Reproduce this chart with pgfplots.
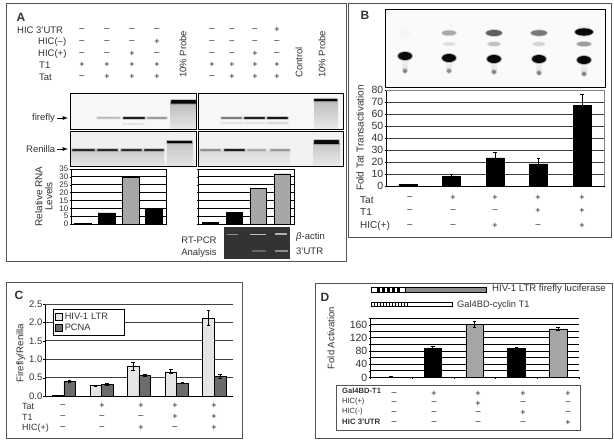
\documentclass[border=0pt]{standalone}
\usepackage{pgfplots}
\pgfplotsset{compat=1.18}
\usepackage{fontspec}
\setmainfont{Liberation Sans}
\newcommand{\fs}[1]{\fontsize{#1}{#1}\selectfont}
\definecolor{frame}{gray}{0.33}
\definecolor{gridd}{gray}{0.25}
\definecolor{barg}{gray}{0.65}
\definecolor{barl}{gray}{0.90}
\definecolor{bard}{gray}{0.42}
\definecolor{txt}{gray}{0.2}
% sign rows: y, list x/sign
\newcommand{\signs}[2]{\foreach \xx/\ss in {#2}{\node[black!90,font=\fs{9},inner sep=0pt] at (\xx,#1) {\ss};}}
\newcommand{\lab}[4][9.5]{\node[anchor=west,txt,font=\fs{#1},inner sep=0pt] at (#2,#3) {#4};}
% gel band: x1,x2,y,height,gray
\newcommand{\band}[5]{%
 \fill[black!#5,opacity=0.2,rounded corners=1pt] (#1-1,#3-#4*0.5-1) rectangle (#2+1,#3+#4*0.5+1);
 \fill[black!#5,opacity=0.95,rounded corners=0.7pt] (#1,#3-#4*0.5) rectangle (#2,#3+#4*0.5);}
% probe smear
\newcommand{\smear}[3]{\shade[top color=black!26,bottom color=black!9] (#1,#3) rectangle (#2,#3+#3*0+129-#3);}
\newcommand{\spot}[5]{\fill[black!#5,opacity=0.25] (#1,#2) ellipse ({#3+1} and {#4+1}); \fill[black!#5,opacity=0.95] (#1,#2) ellipse (#3 and #4);}
\pgfplotsset{
 px/.style={scale only axis,
  /pgf/number format/assume math mode=true,
  axis line style={black,line width=0.6pt},
  xmin=-0.5,xmax=4.5,xticklabels={},
  xtick={-0.5,0.5,1.5,2.5,3.5,4.5},
  y tick label style={txt,inner sep=1pt},
  x tick style={black},
  y tick style={black},
  major tick length=1.5pt,
  tick align=outside,xtick pos=bottom,ytick pos=left,
  ymajorgrids,clip=false,
  ybar=0pt,
  error bars/y dir=both,error bars/y explicit,
  error bars/error bar style={black,line width=0.8pt},
  error bars/error mark options={rotate=90,mark size=1.8pt,line width=0.8pt,black},
 },
}
\begin{document}
\begin{tikzpicture}
\path[use as bounding box,fill=white] (0,0) rectangle (614pt,-441pt);
\begin{scope}[x=1pt,y=-1pt]
% ---------- frames
\draw[frame,line width=0.8pt] (6,3) rectangle (346,261);
\draw[frame,line width=0.8pt] (348,3) rectangle (611,237);
\draw[frame,line width=0.8pt] (6,282) rectangle (242,438);
\draw[frame,line width=0.8pt] (315,283) rectangle (612,438);
% ---------- panel letters
\node[font=\bfseries\fs{12},txt] at (21,17) {A};
\node[font=\bfseries\fs{12},txt] at (365,15) {B};
\node[font=\bfseries\fs{12},txt] at (19,295) {C};
\node[font=\bfseries\fs{12},txt] at (325,297) {D};
% ---------- A header
\lab{17}{30}{HIC 3'UTR}
\lab{38}{42}{HIC(–)}
\lab{38}{54}{HIC(+)}
\lab{39}{65}{T1}
\lab{39}{77}{Tat}
\signs{30}{82/–,107/–,132/–,157/–,212/–,232/–,255/–,277/+}
\signs{42}{82/–,107/–,132/–,157/+,212/–,232/–,255/–,277/–}
\signs{54}{82/–,107/–,132/+,157/–,212/–,232/–,255/+,277/–}
\signs{65}{82/+,107/+,132/+,157/+,212/+,232/+,255/+,277/+}
\signs{77}{82/–,107/+,132/+,157/+,212/–,232/+,255/+,277/+}
\node[rotate=90,anchor=west,txt,font=\fs{9.5},inner sep=0pt] at (183,78) {10\% Probe};
\node[rotate=90,anchor=west,txt,font=\fs{9.5},inner sep=0pt] at (299,78) {Control};
\node[rotate=90,anchor=west,txt,font=\fs{9.5},inner sep=0pt] at (322,78) {10\% Probe};
% ---------- A gels firefly
\fill[black!3] (70,93) rectangle (196,129);
\fill[black!3] (198,93) rectangle (343,129);
\smear{170}{196}{103}\smear{314}{338}{100}
\band{97}{120}{118}{1}{40}
\band{123}{145}{118}{1.6}{92}
\band{147}{167}{118}{1.1}{55}
\band{123}{143}{124}{0.8}{18}
\band{171}{196}{102}{3.5}{100}
\band{221}{242}{118}{1.2}{70}
\band{244}{265}{118}{1.6}{90}
\band{267}{288}{118}{1.8}{95}
\band{221}{242}{123}{0.7}{18}
\band{244}{265}{123}{0.7}{18}
\band{267}{288}{123}{0.8}{28}
\band{314}{337}{100}{2.4}{100}
\draw[black,line width=0.7pt] (70,93) rectangle (196,129);
\draw[black,line width=0.7pt] (198,93) rectangle (343,129);
\lab{32}{118}{firefly}
\draw[-latex,black,line width=0.9pt] (57,118) -- (68,118);
% ---------- A gels Renilla
\fill[black!6] (70,131) rectangle (196,166);
\fill[black!5] (198,131) rectangle (343,166);
\shade[top color=black!20,bottom color=black!9] (70,152) rectangle (164,166);
\shade[top color=black!14,bottom color=black!7] (198,152) rectangle (290,166);
\shade[top color=black!22,bottom color=black!10] (167,144) rectangle (193,166);
\shade[top color=black!22,bottom color=black!8] (313,144) rectangle (340,166);
\band{72}{95}{150}{1.6}{88}
\band{97}{118}{150}{1.6}{88}
\band{121}{142}{150}{1.6}{85}
\band{144}{164}{150}{1.6}{85}
\band{167}{192}{142}{2.4}{100}
\band{200}{221}{150}{1.3}{60}
\band{224}{245}{150}{1.7}{92}
\band{247}{266}{150}{1.1}{45}
\band{270}{290}{150}{1.2}{55}
\band{314}{339}{142}{3.6}{100}
\draw[black,line width=0.7pt] (70,131) rectangle (196,166);
\draw[black,line width=0.7pt] (198,131) rectangle (343,166);
\lab{26}{149}{Renilla}
\draw[-latex,black,line width=0.9pt] (57,149) -- (68,149);
% ---------- RT-PCR gel
\fill[black!80] (224,227) rectangle (290,259);
\fill[black!45] (227,234) rectangle (238,235.5);
\fill[black!25] (250,234) rectangle (266,235.5);
\fill[black!30] (275,233.5) rectangle (287,235.5);
\fill[black!60] (252,250.5) rectangle (266,252);
\fill[black!45] (275,250) rectangle (288,252);
\node[txt,font=\fs{9.5},align=center,inner sep=0pt] at (199,247) {RT-PCR\\[2.5pt]Analysis};
\lab{296}{237}{\textit{β}-actin}
\lab{296}{251}{3'UTR}
% ---------- B gel
\draw[black,line width=0.8pt,fill=black!2] (385,9) rectangle (605,87);
\foreach \xx/\yy in {405/56,449/58,494/59,539/59,584/60}{
 \shade[top color=black!3,bottom color=black!12] (\xx-3,\yy) rectangle (\xx+3,\yy+14);}
\spot{405}{33}{5}{4}{4}
\spot{449}{33}{7}{2.5}{35}
\spot{494}{33}{8}{3}{65}
\spot{539}{33}{8}{2.8}{55}
\spot{584}{32}{9}{3.6}{100}
\spot{449}{44}{6}{1.5}{15}
\spot{494}{44}{6.5}{2}{25}
\spot{539}{44}{6}{1.8}{18}
\spot{584}{44}{7}{2.2}{40}
\spot{405}{56}{7}{4}{100}
\spot{449}{58}{7}{4}{100}
\spot{494}{59}{7}{4}{100}
\spot{539}{59}{7}{4}{100}
\spot{584}{60}{7}{4}{100}
\spot{405}{71}{2}{2}{50}
\spot{449}{71}{2}{2}{45}
\spot{494}{72}{2}{2}{50}
\spot{539}{73}{2}{2}{50}
\spot{584}{74}{2}{2}{50}
% ---------- B row labels
\lab[10]{360}{200}{Tat}
\lab[10]{360}{212}{T1}
\lab[10]{360}{226}{HIC(+)}
\signs{198}{410/–,453/+,495/+,538/+,582/+}
\signs{211}{410/–,453/–,495/–,538/+,582/+}
\signs{226}{410/–,453/–,495/+,538/–,582/+}
% ---------- C row labels
\lab[9]{22}{406}{Tat}
\lab[9]{22}{417}{T1}
\lab[9]{22}{428}{HIC(+)}
\signs{406}{63/–,102/+,141/+,175/+,214/+}
\signs{417}{63/–,102/–,141/–,175/+,214/+}
\signs{428}{63/–,102/–,141/+,175/–,214/+}
% ---------- D diagrams
\fill[black!45,draw=black,line width=0.5pt] (371,287) rectangle (486,292);
\fill[white,draw=black,line width=0.5pt] (371,287) rectangle (405,292);
\foreach \xx in {377,382,387,392,397}{\fill[black] (\xx,287) rectangle (\xx+3,292);}
\fill[white,draw=black,line width=0.5pt] (371,302) rectangle (452,306);
\foreach \xx in {374,377,380,383,386,389,392,395,398,401,404,407}{\draw[black,line width=0.4pt] (\xx,302) -- (\xx,306);}
\lab[9.6]{492}{289}{HIV-1 LTR firefly luciferase}
\lab[9.3]{457}{305}{Gal4BD-cyclin T1}
% ---------- D table
\draw[frame,line width=0.8pt] (336,385) rectangle (580,430);
\lab[7.6]{342}{391}{\bfseries Gal4BD-T1}
\lab[7.5]{342}{402}{HIC(+)}
\lab[7.5]{342}{412}{HIC(-)}
\lab[7.8]{342}{422}{\bfseries HIC 3'UTR}
\signs{394}{394/–,434/+,478/+,523/+,568/+}
\signs{403.5}{394/–,434/–,478/+,523/–,568/–}
\signs{413}{394/–,434/–,478/–,523/+,568/–}
\signs{423}{394/–,434/–,478/–,523/–,568/+}
\end{scope}
% ========== charts
% A1
\begin{axis}[px,at={(71pt,-224pt)},anchor=south west,width=95pt,height=55pt,
 xmin=-0.5,xmax=3.5,xtick=\empty,ymin=0,ymax=35,ytick={0,5,...,35},
 ymajorgrids,grid style={black,line width=0.8pt},bar width=17pt,
 y tick label style={font=\fs{8},txt},
 ylabel={Relative RNA\\Levels},
 y label style={at={(axis description cs:-0.285,0.5)},anchor=center,align=center,txt,font=\fs{10}}]
\addplot[fill=black,draw=black,bar shift=0pt] coordinates {(0,0.5)(1,7)};
\addplot[fill=barg,draw=black,bar shift=0pt] coordinates {(2,30)};
\addplot[fill=black,draw=black,bar shift=0pt] coordinates {(3,9.5)};
\end{axis}
% A2
\begin{axis}[px,at={(198pt,-224pt)},anchor=south west,width=96pt,height=55pt,
 xmin=-0.5,xmax=3.5,xtick=\empty,ymin=0,ymax=35,ytick={0,5,...,35},yticklabels={},
 ymajorgrids,grid style={black,line width=0.8pt},bar width=15.5pt]
\addplot[fill=black,draw=black,bar shift=0pt] coordinates {(0,1)(1,7.5)};
\addplot[fill=barg,draw=black,bar shift=0pt] coordinates {(2,22.5)(3,32)};
\end{axis}
% B
\begin{axis}[px,at={(386pt,-186pt)},anchor=south west,width=218pt,height=96pt,
 ymin=0,ymax=80,ytick={0,10,...,80},
 axis y line*=left,axis x line*=bottom,
 grid style={gridd,line width=0.8pt},bar width=18pt,
 y tick label style={font=\fs{10.5}},
 ylabel={Fold Tat Transactivation},
 y label style={at={(axis description cs:-0.119,0.5)},anchor=center,txt,font=\fs{10}}]
\addplot[fill=black,draw=black,bar shift=0pt] coordinates {
 (0,1.5) +- (0,0.2)
 (1,8) +- (0,1.6)
 (2,23.5) +- (0,4.5)
 (3,18.5) +- (0,4.5)
 (4,67) +- (0,9)};
\draw[black!50,line width=0.7pt] (axis cs:-0.5,80) -- (axis cs:4.5,80) -- (axis cs:4.5,0);
\end{axis}
% C
\begin{axis}[px,at={(45pt,-396pt)},anchor=south west,width=188pt,height=92pt,
 ymin=0,ymax=2.5,ytick={0,0.5,1.0,1.5,2.0,2.5},
 /pgf/number format/fixed,/pgf/number format/fixed zerofill,/pgf/number format/precision=1,
 axis y line*=left,axis x line*=bottom,xtick=\empty,
 grid style={gridd,line width=0.8pt},bar width=11.6pt,
 y tick label style={font=\fs{9.5}},
 ylabel={Firefly/Renilla},
 y label style={at={(axis description cs:-0.128,0.467)},anchor=center,txt,font=\fs{9.7}},
 legend cell align=left,
 legend image code/.code={\draw[#1,line width=0.8pt] (0pt,-3pt) rectangle (7pt,4pt);},
 legend style={at={(0.043,0.945)},anchor=north west,draw=black,line width=0.8pt,fill=white,
  font=\fs{9.3},inner sep=1.5pt,row sep=-0.5pt,text=txt,cells={text width=56pt,align=left}}]
\addplot[fill=barl,draw=black] coordinates {
 (0,0.01) +- (0,0.005)
 (1,0.28) +- (0,0.015)
 (2,0.80) +- (0,0.10)
 (3,0.66) +- (0,0.05)
 (4,2.12) +- (0,0.20)};
\addplot[fill=bard,draw=black] coordinates {
 (0,0.40) +- (0,0.02)
 (1,0.32) +- (0,0.03)
 (2,0.56) +- (0,0.02)
 (3,0.35) +- (0,0.02)
 (4,0.54) +- (0,0.05)};
\legend{HIV-1 LTR,PCNA}
\draw[gridd,line width=0.8pt] (axis cs:-0.5,2.5) -- (axis cs:4.5,2.5);
\end{axis}
% D
\begin{axis}[px,at={(370pt,-377.5pt)},anchor=south west,width=209pt,height=59.5pt,
 ymin=0,ymax=180,ytick={0,40,80,120,160},
 extra y ticks={20,60,100,140,180},extra y tick labels={},
 extra y tick style={grid=major},
 axis x line*=bottom,axis y line*=left,
 grid style={black,line width=0.8pt},bar width=17.3pt,
 y tick label style={font=\fs{10.5}},
 ylabel={Fold Activation},
 y label style={at={(axis description cs:-0.187,0.664)},anchor=center,txt,font=\fs{9.5}}]
\addplot[fill=black,draw=black,bar shift=0pt] coordinates {
 (0,1) +- (0,1)
 (1,88) +- (0,6)
 (3,88) +- (0,3)};
\addplot[fill=barg,draw=black,bar shift=0pt] coordinates {
 (2,160) +- (0,9)
 (4,147) +- (0,5)};
\draw[black,line width=0.8pt] (axis cs:-0.5,180) -- (axis cs:4.5,180);
\end{axis}
\end{tikzpicture}
\end{document}
